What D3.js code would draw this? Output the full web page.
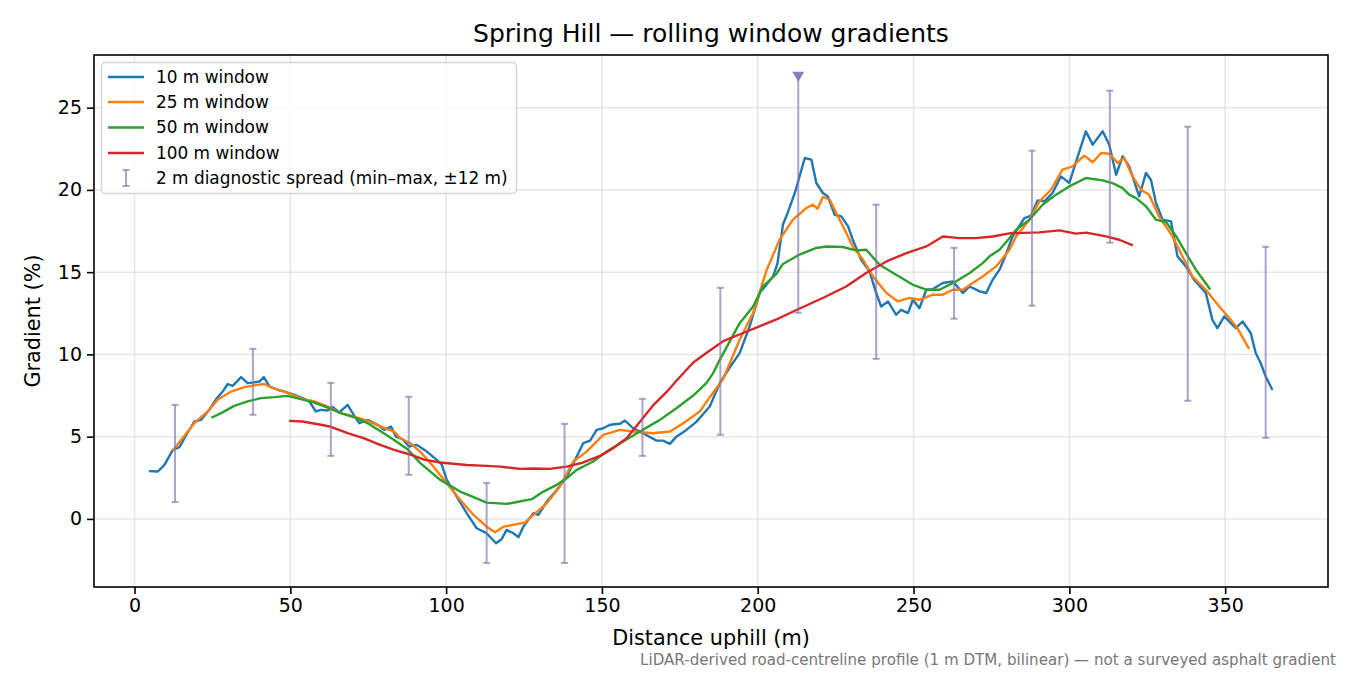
<!DOCTYPE html>
<html>
<head>
<meta charset="utf-8">
<script src="https://cdn.jsdelivr.net/npm/d3@7"></script>
<style>
  body { margin: 0; background: #fff; }
  text { font-family: "DejaVu Sans", sans-serif; }
</style>
</head>
<body>
<div class="svg-container"></div>
<script>
// rolling-window gradient series, [distance m, gradient %]
const win10 = [[5,2.9],[7.5,2.88],[9.6,3.28],[12.3,4.2],[14.4,4.36],[16.6,5.1],[19.2,5.92],[21.4,6.02],[24,6.63],[26.2,7.28],[28.3,7.74],[29.9,8.2],[31.5,8.09],[34.2,8.62],[36.3,8.25],[38.4,8.3],[40.1,8.35],[41.5,8.62],[43.3,8.05],[45.9,7.85],[48.1,7.74],[51.3,7.54],[53.9,7.34],[56.1,7.14],[58.2,6.53],[59.8,6.63],[62,6.59],[63.6,6.8],[65.7,6.47],[68.4,6.93],[70,6.43],[72.1,5.82],[74.8,6.02],[78,5.72],[80.1,5.41],[82.3,5.61],[83.9,5.0],[86,4.85],[88.1,4.4],[90.6,4.5],[93.8,4.09],[97,3.59],[98.6,3.3],[100.2,2.37],[103.4,1.36],[106.6,0.35],[109.8,-0.57],[113,-0.87],[116,-1.48],[117.8,-1.24],[119.4,-0.67],[121.6,-0.87],[123.2,-1.11],[124.8,-0.47],[128,0.35],[129.6,0.24],[132.3,1.05],[135.5,1.76],[138.7,2.57],[141.9,3.79],[144,4.6],[146.2,4.76],[148.3,5.41],[150.4,5.51],[152.6,5.72],[155.8,5.78],[157.4,5.98],[160,5.51],[163.2,5.21],[167.5,4.76],[169.6,4.76],[171.8,4.56],[173.9,5.0],[177.1,5.41],[180.3,5.9],[184.6,6.83],[187.8,8.25],[191,9.2],[194.2,10.08],[197.4,11.7],[200.6,13.73],[204.9,14.74],[206.3,15.5],[208.1,17.9],[209.6,18.6],[211.9,19.81],[215.1,21.94],[217.2,21.84],[218.8,20.42],[220.9,19.81],[222.5,19.6],[224.7,18.49],[226.8,18.39],[229,17.78],[230.5,16.97],[233.2,15.75],[235.9,15.04],[238,13.73],[239.6,12.91],[241.8,13.22],[244.4,12.41],[246,12.71],[248.2,12.51],[249.8,13.32],[251.9,12.81],[254.1,13.93],[256.2,13.97],[259.4,14.34],[262.6,14.44],[265.8,13.73],[268,14.13],[271.2,13.83],[273.3,13.73],[275.4,14.54],[277.6,15.15],[279.2,15.86],[281.8,17.17],[285.6,18.29],[287.7,18.43],[289.8,19.36],[292,19.3],[294.6,19.81],[297.3,20.82],[300,20.42],[302.7,22.04],[305.3,23.56],[307.5,22.75],[310.7,23.56],[312.8,22.75],[315,20.92],[317.1,22.04],[319.2,21.43],[322.4,19.6],[324.6,21.03],[326.2,20.6],[327.8,19.2],[329.9,18.19],[332.6,18.09],[334.7,15.96],[337.4,15.35],[340,14.54],[343.8,13.73],[345.9,12.1],[347.5,11.6],[349.7,12.31],[353.4,11.6],[355.6,12.0],[358.2,11.3],[359.8,10.08],[361.4,9.47],[363,8.66],[365,7.9]];

const win25 = [[12.5,4.2],[16.2,5.1],[19.2,5.82],[24,6.63],[26.7,7.24],[31,7.74],[35.3,8.01],[39.5,8.15],[41.6,8.2],[44.3,7.95],[48.1,7.74],[51.3,7.5],[53.9,7.3],[57.7,7.14],[62,6.83],[66.2,6.43],[70.5,6.22],[74.8,5.96],[79.1,5.61],[83.3,5.31],[85.3,4.9],[88.5,4.6],[91.7,4.09],[95.9,3.18],[100.2,2.17],[104.5,1.16],[108.8,0.24],[113,-0.47],[115.7,-0.81],[118.4,-0.47],[122.7,-0.32],[125.3,-0.22],[128,0.24],[132.3,0.95],[136.5,1.97],[140.8,3.49],[145.1,4.09],[150.4,5.11],[155.8,5.41],[160,5.31],[166.4,5.21],[171.8,5.31],[176.1,5.82],[181.4,6.53],[184.6,7.4],[188.9,8.5],[194.2,10.89],[198.5,12.51],[202.8,15.1],[207,16.97],[211.3,18.19],[215.6,18.9],[217.7,19.1],[219.2,18.85],[220.9,19.57],[223.1,19.4],[225.2,18.6],[227.9,17.58],[230.5,16.56],[233.8,15.75],[237,14.74],[241.3,13.73],[245,13.22],[248.7,13.43],[251.9,13.32],[256.2,13.63],[259.4,13.63],[262.6,13.93],[265.8,13.93],[269,14.34],[272.2,14.74],[276.5,15.35],[280.8,16.36],[282.9,17.17],[287.2,18.19],[290.4,19.3],[294.1,20.01],[297.8,21.23],[301,21.43],[304.8,22.08],[307.5,21.68],[310.2,22.24],[312.8,22.2],[315.5,21.64],[317.6,21.94],[320.3,20.82],[323,20.01],[325.6,19.71],[328.8,18.39],[333.1,17.17],[336.3,15.96],[339.5,14.74],[343.8,13.93],[348.1,12.91],[351.3,12.21],[353.9,11.6],[357.5,10.4]];

const win50 = [[25,6.18],[27.8,6.43],[32,6.87],[36.3,7.14],[40.6,7.34],[44.9,7.4],[49.1,7.48],[53.4,7.28],[57.7,7.07],[62,6.77],[66.2,6.43],[70.5,6.18],[74.8,5.82],[79.1,5.31],[83.3,4.8],[87.6,4.24],[91.7,3.39],[98.1,2.37],[104.5,1.66],[108.8,1.32],[113,0.99],[119.4,0.91],[122.7,1.03],[127.5,1.2],[131.2,1.66],[135.5,2.07],[138.7,2.47],[141.9,2.98],[147.2,3.49],[151.5,4.09],[156.8,4.7],[162.2,5.31],[168.6,6.02],[173.9,6.73],[179.3,7.5],[183.5,8.25],[185.7,8.86],[187.8,9.67],[189.9,10.4],[194.2,11.9],[198.5,12.91],[201.7,14.13],[206,14.9],[208.1,15.5],[213,16.03],[218.8,16.47],[222,16.56],[227.3,16.53],[231.6,16.32],[234.8,16.36],[239.1,15.45],[244.4,14.84],[249.8,14.23],[254.1,13.93],[258.3,13.93],[263.7,14.44],[268,14.95],[272.2,15.55],[274.4,15.96],[277.6,16.36],[280.8,17.07],[282.9,17.58],[287.2,18.19],[291.4,19.1],[295.7,19.71],[300,20.21],[305.3,20.72],[310.7,20.58],[314,20.4],[317.1,20.11],[319.2,19.71],[321.4,19.5],[324.6,19.0],[327.8,18.19],[331.1,18.03],[334.3,17.17],[337.4,16.16],[340.6,15.15],[345,14.0]];

const win100 = [[50,5.96],[53.9,5.92],[59.8,5.72],[63,5.6],[68.4,5.21],[73.7,4.9],[78,4.56],[83.3,4.2],[88.7,3.9],[92.9,3.6],[98.1,3.43],[106.6,3.28],[113,3.22],[117.3,3.18],[123.7,3.04],[128,3.06],[133.3,3.04],[138.7,3.18],[144,3.43],[149.4,3.83],[153.6,4.3],[157.9,4.9],[162.2,5.9],[166.4,6.9],[170.7,7.7],[173.9,8.4],[179.3,9.51],[183.5,10.08],[188.9,10.8],[195.3,11.3],[201.7,11.8],[207,12.21],[212.4,12.7],[220.9,13.43],[228.4,14.13],[234.8,14.95],[241.3,15.65],[247.7,16.16],[254.1,16.56],[259.4,17.17],[264.7,17.07],[270,17.07],[275.4,17.17],[280.8,17.36],[290.4,17.42],[296.8,17.54],[302.1,17.34],[305.4,17.4],[311.8,17.17],[316,16.97],[320,16.65]];

// 2 m diagnostic spread (min-max within +-12 m)
const spreadX  = [13, 38, 63, 88, 113, 138, 163, 188, 213, 238, 263, 288, 313, 338, 363];
const spreadLo = [1.03, 6.33, 3.83, 2.68, -2.68, -2.68, 3.83, 5.11, 12.53, 9.73, 12.17, 12.96, 16.79, 7.18, 4.93];
const spreadHi = [6.93, 10.34, 8.27, 7.42, 2.19, 5.78, 7.3, 14.05, 27, 19.1, 16.48, 22.38, 26.03, 23.84, 16.54];
const spreadClipped = [false, false, false, false, false, false, false, false, true, false, false, false, false, false, false];

const seriesNames = ['10 m window', '25 m window', '50 m window', '100 m window'];
const seriesColors = ['#1f77b4', '#ff7f0e', '#2ca02c', '#d62728'];
const xTicks = [0, 50, 100, 150, 200, 250, 300, 350];
const yTicks = [0, 5, 10, 15, 20, 25];

const W = 1350, H = 675;
const m = {left: 94, right: 1328, top: 55, bottom: 587};
const spreadColor = '#8172b2';

const svg = d3.select('.svg-container').append('svg')
  .attr('width', W).attr('height', H);

const x = d3.scaleLinear().domain([-13, 383]).range([m.left, m.right]);
const y = d3.scaleLinear().domain([-4.14, 28.2]).range([m.bottom, m.top]);

// grid
const grid = svg.append('g');
grid.selectAll('line.gx').data(xTicks).enter().append('line')
  .attr('x1', d => x(d)).attr('x2', d => x(d))
  .attr('y1', m.top).attr('y2', m.bottom)
  .attr('stroke', '#b0b0b0').attr('stroke-opacity', 0.3).attr('stroke-width', 1.5);
grid.selectAll('line.gy').data(yTicks).enter().append('line')
  .attr('x1', m.left).attr('x2', m.right)
  .attr('y1', d => y(d)).attr('y2', d => y(d))
  .attr('stroke', '#b0b0b0').attr('stroke-opacity', 0.3).attr('stroke-width', 1.5);

svg.append('defs').append('clipPath').attr('id', 'plotclip')
  .append('rect').attr('x', m.left).attr('y', m.top)
  .attr('width', m.right - m.left).attr('height', m.bottom - m.top);

const plot = svg.append('g').attr('clip-path', 'url(#plotclip)');

const line = d3.line().x(d => x(d[0])).y(d => y(d[1]));
[win10, win25, win50, win100].forEach((s, i) => {
  plot.append('path')
    .datum(s)
    .attr('d', line)
    .attr('fill', 'none')
    .attr('stroke', seriesColors[i])
    .attr('stroke-width', 2.4)
    .attr('stroke-linejoin', 'round')
    .attr('stroke-linecap', 'square');
});

// error bars
const bars = plot.append('g').attr('stroke', spreadColor).attr('stroke-opacity', 0.65).attr('stroke-width', 2);
spreadX.forEach((d, i) => {
  const cx = x(d);
  bars.append('line').attr('x1', cx).attr('x2', cx).attr('y1', y(spreadLo[i])).attr('y2', y(spreadHi[i]));
  bars.append('line').attr('x1', cx - 3.5).attr('x2', cx + 3.5).attr('y1', y(spreadLo[i])).attr('y2', y(spreadLo[i]));
  if (!spreadClipped[i]) {
    bars.append('line').attr('x1', cx - 3.5).attr('x2', cx + 3.5).attr('y1', y(spreadHi[i])).attr('y2', y(spreadHi[i]));
  } else {
    // value runs off the top: mark it
    const ty = y(spreadHi[i]) + 2;
    plot.append('path')
      .attr('d', `M${cx - 6},${ty - 5} L${cx + 6},${ty - 5} L${cx},${ty + 5} Z`)
      .attr('fill', spreadColor).attr('fill-opacity', 0.9);
  }
});

// axes frame
svg.append('rect')
  .attr('x', m.left).attr('y', m.top)
  .attr('width', m.right - m.left).attr('height', m.bottom - m.top)
  .attr('fill', 'none').attr('stroke', '#000').attr('stroke-width', 1.6);

const xAxis = svg.append('g').attr('transform', `translate(0,${m.bottom})`)
  .call(d3.axisBottom(x).tickValues(xTicks).tickSize(7).tickPadding(5));
const yAxis = svg.append('g').attr('transform', `translate(${m.left},0)`)
  .call(d3.axisLeft(y).tickValues(yTicks).tickSize(7).tickPadding(5));
[xAxis, yAxis].forEach(a => {
  a.select('.domain').remove();
  a.selectAll('.tick line').attr('stroke', '#000').attr('stroke-width', 1.6);
  a.selectAll('.tick text').attr('fill', '#000').style('font-size', '19px')
    .style('font-family', '"DejaVu Sans", sans-serif');
});

// labels
svg.append('text').attr('x', (m.left + m.right) / 2).attr('y', 42)
  .attr('text-anchor', 'middle').style('font-size', '25px')
  .text('Spring Hill — rolling window gradients');
svg.append('text').attr('x', (m.left + m.right) / 2).attr('y', 645)
  .attr('text-anchor', 'middle').style('font-size', '20.8px')
  .text('Distance uphill (m)');
svg.append('text').attr('transform', `translate(40,${(m.top + m.bottom) / 2}) rotate(-90)`)
  .attr('text-anchor', 'middle').style('font-size', '20.8px')
  .text('Gradient (%)');
svg.append('text').attr('x', 1336).attr('y', 665)
  .attr('text-anchor', 'end').style('font-size', '15.1px').attr('fill', '#777')
  .text('LiDAR-derived road-centreline profile (1 m DTM, bilinear) — not a surveyed asphalt gradient');

// legend
const lg = svg.append('g');
lg.append('rect').attr('x', 101.5).attr('y', 62.5).attr('width', 415).attr('height', 131)
  .attr('rx', 4).attr('fill', '#fff').attr('fill-opacity', 0.8)
  .attr('stroke', '#d6d6d6').attr('stroke-width', 1.5);
const rowY = [77, 102, 127.5, 153, 178];
seriesNames.forEach((n, i) => {
  lg.append('line').attr('x1', 108).attr('x2', 144).attr('y1', rowY[i]).attr('y2', rowY[i])
    .attr('stroke', seriesColors[i]).attr('stroke-width', 2.4);
  lg.append('text').attr('x', 156).attr('y', rowY[i]).attr('dy', '0.35em')
    .style('font-size', '16.9px').text(n);
});
const ly = rowY[4];
const lgBar = lg.append('g').attr('stroke', spreadColor).attr('stroke-opacity', 0.65).attr('stroke-width', 2);
lgBar.append('line').attr('x1', 126).attr('x2', 126).attr('y1', ly - 8).attr('y2', ly + 8);
lgBar.append('line').attr('x1', 122.5).attr('x2', 129.5).attr('y1', ly - 8).attr('y2', ly - 8);
lgBar.append('line').attr('x1', 122.5).attr('x2', 129.5).attr('y1', ly + 8).attr('y2', ly + 8);
lg.append('text').attr('x', 156).attr('y', ly).attr('dy', '0.35em')
  .style('font-size', '16.9px').text('2 m diagnostic spread (min–max, ±12 m)');
</script>
</body>
</html>
